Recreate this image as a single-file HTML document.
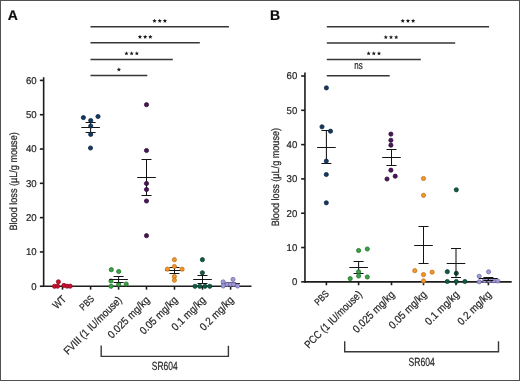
<!DOCTYPE html>
<html><head><meta charset="utf-8"><style>
html,body{margin:0;padding:0;background:#fff;}
body{width:520px;height:381px;overflow:hidden;}
svg{display:block;text-rendering:geometricPrecision;will-change:transform;}
text{font-family:"Liberation Sans",sans-serif;fill:#262626;stroke:#262626;stroke-width:0.22px;}
.ax{stroke:#1c1c1c;stroke-width:1.6;fill:none;}
.eb{stroke:#141414;stroke-width:1.05;fill:none;}
.sb{stroke:#363636;stroke-width:1.5;fill:none;}
.br{stroke:#383838;stroke-width:1.4;fill:none;}
.star{fill:#1a1a1a;}
.tk{font-size:9.9px;text-anchor:end;}
.ns{font-size:11px;text-anchor:middle;}
.xl{font-size:10.8px;text-anchor:end;}
.sr{font-size:11.9px;text-anchor:middle;}
.yt{font-size:10.6px;text-anchor:middle;}
.pl{font-size:14px;font-weight:bold;fill:#0a0a0a;}
</style></head><body>
<svg width="520" height="381" viewBox="0 0 520 381">
<rect x="0.5" y="0.5" width="519" height="380" fill="#fff" stroke="#525252" stroke-width="1"/>
<line x1="43.65" y1="77.2" x2="43.65" y2="286.95" class="ax"/>
<line x1="42.949999999999996" y1="286.25" x2="251.5" y2="286.25" class="ax"/>
<line x1="39.85" y1="286.25" x2="43.65" y2="286.25" class="ax"/>
<text x="36.7" y="289.55" class="tk" textLength="5.34" lengthAdjust="spacingAndGlyphs">0</text>
<line x1="39.85" y1="251.94" x2="43.65" y2="251.94" class="ax"/>
<text x="36.7" y="255.24" class="tk" textLength="10.68" lengthAdjust="spacingAndGlyphs">10</text>
<line x1="39.85" y1="217.63" x2="43.65" y2="217.63" class="ax"/>
<text x="36.7" y="220.93" class="tk" textLength="10.68" lengthAdjust="spacingAndGlyphs">20</text>
<line x1="39.85" y1="183.32" x2="43.65" y2="183.32" class="ax"/>
<text x="36.7" y="186.62" class="tk" textLength="10.68" lengthAdjust="spacingAndGlyphs">30</text>
<line x1="39.85" y1="149.02" x2="43.65" y2="149.02" class="ax"/>
<text x="36.7" y="152.32" class="tk" textLength="10.68" lengthAdjust="spacingAndGlyphs">40</text>
<line x1="39.85" y1="114.71" x2="43.65" y2="114.71" class="ax"/>
<text x="36.7" y="118.01" class="tk" textLength="10.68" lengthAdjust="spacingAndGlyphs">50</text>
<line x1="39.85" y1="80.40" x2="43.65" y2="80.40" class="ax"/>
<text x="36.7" y="83.70" class="tk" textLength="10.68" lengthAdjust="spacingAndGlyphs">60</text>
<line x1="62.50" y1="286.25" x2="62.50" y2="289.65" class="ax"/>
<line x1="90.60" y1="286.25" x2="90.60" y2="289.65" class="ax"/>
<line x1="118.60" y1="286.25" x2="118.60" y2="289.65" class="ax"/>
<line x1="146.50" y1="286.25" x2="146.50" y2="289.65" class="ax"/>
<line x1="174.50" y1="286.25" x2="174.50" y2="289.65" class="ax"/>
<line x1="202.50" y1="286.25" x2="202.50" y2="289.65" class="ax"/>
<line x1="230.60" y1="286.25" x2="230.60" y2="289.65" class="ax"/>
<circle cx="58.4" cy="281.8" r="2.1" fill="#c8112e" stroke="#8e0a20" stroke-width="0.75"/>
<circle cx="54.5" cy="286.3" r="2.1" fill="#c8112e" stroke="#8e0a20" stroke-width="0.75"/>
<circle cx="57.6" cy="286.2" r="2.1" fill="#c8112e" stroke="#8e0a20" stroke-width="0.75"/>
<circle cx="63.9" cy="285.4" r="2.1" fill="#c8112e" stroke="#8e0a20" stroke-width="0.75"/>
<circle cx="67.1" cy="286.2" r="2.1" fill="#c8112e" stroke="#8e0a20" stroke-width="0.75"/>
<circle cx="70.2" cy="286.2" r="2.1" fill="#c8112e" stroke="#8e0a20" stroke-width="0.75"/>
<line x1="90.6" y1="122.5" x2="90.6" y2="132.5" class="eb"/>
<line x1="81.30" y1="127.5" x2="99.90" y2="127.5" class="eb"/>
<line x1="85.60" y1="122.5" x2="95.60" y2="122.5" class="eb"/>
<line x1="85.60" y1="132.5" x2="95.60" y2="132.5" class="eb"/>
<circle cx="83.4" cy="117.6" r="2.1" fill="#153a60" stroke="#0b2340" stroke-width="0.75"/>
<circle cx="98" cy="116.5" r="2.1" fill="#153a60" stroke="#0b2340" stroke-width="0.75"/>
<circle cx="90.7" cy="120.5" r="2.1" fill="#153a60" stroke="#0b2340" stroke-width="0.75"/>
<circle cx="90.7" cy="126" r="2.1" fill="#153a60" stroke="#0b2340" stroke-width="0.75"/>
<circle cx="90.7" cy="134.4" r="2.1" fill="#153a60" stroke="#0b2340" stroke-width="0.75"/>
<circle cx="90.5" cy="148" r="2.1" fill="#153a60" stroke="#0b2340" stroke-width="0.75"/>
<circle cx="111.3" cy="269.7" r="2.1" fill="#37a443" stroke="#1c6b27" stroke-width="0.75"/>
<circle cx="118.7" cy="271.5" r="2.1" fill="#37a443" stroke="#1c6b27" stroke-width="0.75"/>
<circle cx="111" cy="281" r="2.1" fill="#37a443" stroke="#1c6b27" stroke-width="0.75"/>
<circle cx="111" cy="286.3" r="2.1" fill="#37a443" stroke="#1c6b27" stroke-width="0.75"/>
<circle cx="118.7" cy="284.4" r="2.1" fill="#37a443" stroke="#1c6b27" stroke-width="0.75"/>
<circle cx="126.2" cy="284" r="2.1" fill="#37a443" stroke="#1c6b27" stroke-width="0.75"/>
<line x1="118.6" y1="276.5" x2="118.6" y2="282.5" class="eb"/>
<line x1="109.30" y1="279.5" x2="127.90" y2="279.5" class="eb"/>
<line x1="113.60" y1="276.5" x2="123.60" y2="276.5" class="eb"/>
<line x1="113.60" y1="282.5" x2="123.60" y2="282.5" class="eb"/>
<line x1="146.5" y1="159.5" x2="146.5" y2="195.5" class="eb"/>
<line x1="137.20" y1="177.5" x2="155.80" y2="177.5" class="eb"/>
<line x1="141.50" y1="159.5" x2="151.50" y2="159.5" class="eb"/>
<line x1="141.50" y1="195.5" x2="151.50" y2="195.5" class="eb"/>
<circle cx="146.5" cy="104.7" r="2.1" fill="#4a1659" stroke="#2a0a34" stroke-width="0.75"/>
<circle cx="146.5" cy="150.5" r="2.1" fill="#4a1659" stroke="#2a0a34" stroke-width="0.75"/>
<circle cx="146.5" cy="183.5" r="2.1" fill="#4a1659" stroke="#2a0a34" stroke-width="0.75"/>
<circle cx="146.5" cy="189.5" r="2.1" fill="#4a1659" stroke="#2a0a34" stroke-width="0.75"/>
<circle cx="146.5" cy="201" r="2.1" fill="#4a1659" stroke="#2a0a34" stroke-width="0.75"/>
<circle cx="146.5" cy="235.7" r="2.1" fill="#4a1659" stroke="#2a0a34" stroke-width="0.75"/>
<line x1="174.5" y1="267.5" x2="174.5" y2="273.5" class="eb"/>
<line x1="165.20" y1="270.5" x2="183.80" y2="270.5" class="eb"/>
<line x1="169.50" y1="267.5" x2="179.50" y2="267.5" class="eb"/>
<line x1="169.50" y1="273.5" x2="179.50" y2="273.5" class="eb"/>
<circle cx="174.4" cy="259.7" r="2.1" fill="#f0962a" stroke="#c06e12" stroke-width="0.75"/>
<circle cx="174.4" cy="266.5" r="2.1" fill="#f0962a" stroke="#c06e12" stroke-width="0.75"/>
<circle cx="167.4" cy="269.2" r="2.1" fill="#f0962a" stroke="#c06e12" stroke-width="0.75"/>
<circle cx="182.1" cy="269.2" r="2.1" fill="#f0962a" stroke="#c06e12" stroke-width="0.75"/>
<circle cx="174.4" cy="276.5" r="2.1" fill="#f0962a" stroke="#c06e12" stroke-width="0.75"/>
<circle cx="174.4" cy="280.2" r="2.1" fill="#f0962a" stroke="#c06e12" stroke-width="0.75"/>
<circle cx="202.4" cy="259.7" r="2.1" fill="#125a45" stroke="#07382a" stroke-width="0.75"/>
<circle cx="202.4" cy="272.8" r="2.1" fill="#125a45" stroke="#07382a" stroke-width="0.75"/>
<circle cx="195" cy="286.3" r="2.1" fill="#125a45" stroke="#07382a" stroke-width="0.75"/>
<circle cx="199.8" cy="286.3" r="2.1" fill="#125a45" stroke="#07382a" stroke-width="0.75"/>
<circle cx="205" cy="286.3" r="2.1" fill="#125a45" stroke="#07382a" stroke-width="0.75"/>
<circle cx="209.8" cy="286.3" r="2.1" fill="#125a45" stroke="#07382a" stroke-width="0.75"/>
<line x1="202.5" y1="275.5" x2="202.5" y2="283.5" class="eb"/>
<line x1="193.20" y1="279.5" x2="211.80" y2="279.5" class="eb"/>
<line x1="197.50" y1="275.5" x2="207.50" y2="275.5" class="eb"/>
<line x1="197.50" y1="283.5" x2="207.50" y2="283.5" class="eb"/>
<line x1="230.6" y1="282.5" x2="230.6" y2="284.5" class="eb"/>
<line x1="221.30" y1="283.5" x2="239.90" y2="283.5" class="eb"/>
<line x1="225.60" y1="282.5" x2="235.60" y2="282.5" class="eb"/>
<line x1="225.60" y1="284.5" x2="235.60" y2="284.5" class="eb"/>
<circle cx="233" cy="279.4" r="2.1" fill="#a09ad6" stroke="#7069a8" stroke-width="0.75"/>
<circle cx="223.2" cy="281.9" r="2.1" fill="#a09ad6" stroke="#7069a8" stroke-width="0.75"/>
<circle cx="223.2" cy="286.0" r="2.1" fill="#a09ad6" stroke="#7069a8" stroke-width="0.75"/>
<circle cx="227.2" cy="284.3" r="2.1" fill="#a09ad6" stroke="#7069a8" stroke-width="0.75"/>
<circle cx="230.6" cy="284.3" r="2.1" fill="#a09ad6" stroke="#7069a8" stroke-width="0.75"/>
<circle cx="233.6" cy="284.3" r="2.1" fill="#a09ad6" stroke="#7069a8" stroke-width="0.75"/>
<circle cx="237.6" cy="286" r="2.1" fill="#a09ad6" stroke="#7069a8" stroke-width="0.75"/>
<line x1="90.5" y1="26.8" x2="228.9" y2="26.8" class="sb"/>
<polygon points="154.50,18.65 155.09,20.09 156.64,20.20 155.45,21.21 155.82,22.72 154.50,21.90 153.18,22.72 153.55,21.21 152.36,20.20 153.91,20.09" class="star"/>
<polygon points="159.70,18.65 160.29,20.09 161.84,20.20 160.65,21.21 161.02,22.72 159.70,21.90 158.38,22.72 158.75,21.21 157.56,20.20 159.11,20.09" class="star"/>
<polygon points="164.90,18.65 165.49,20.09 167.04,20.20 165.85,21.21 166.22,22.72 164.90,21.90 163.58,22.72 163.95,21.21 162.76,20.20 164.31,20.09" class="star"/>
<line x1="90.5" y1="42.8" x2="199.8" y2="42.8" class="sb"/>
<polygon points="139.95,34.65 140.54,36.09 142.09,36.20 140.90,37.21 141.27,38.72 139.95,37.90 138.63,38.72 139.00,37.21 137.81,36.20 139.36,36.09" class="star"/>
<polygon points="145.15,34.65 145.74,36.09 147.29,36.20 146.10,37.21 146.47,38.72 145.15,37.90 143.83,38.72 144.20,37.21 143.01,36.20 144.56,36.09" class="star"/>
<polygon points="150.35,34.65 150.94,36.09 152.49,36.20 151.30,37.21 151.67,38.72 150.35,37.90 149.03,38.72 149.40,37.21 148.21,36.20 149.76,36.09" class="star"/>
<line x1="90.5" y1="59.4" x2="172.8" y2="59.4" class="sb"/>
<polygon points="126.45,51.25 127.04,52.69 128.59,52.80 127.40,53.81 127.77,55.32 126.45,54.50 125.13,55.32 125.50,53.81 124.31,52.80 125.86,52.69" class="star"/>
<polygon points="131.65,51.25 132.24,52.69 133.79,52.80 132.60,53.81 132.97,55.32 131.65,54.50 130.33,55.32 130.70,53.81 129.51,52.80 131.06,52.69" class="star"/>
<polygon points="136.85,51.25 137.44,52.69 138.99,52.80 137.80,53.81 138.17,55.32 136.85,54.50 135.53,55.32 135.90,53.81 134.71,52.80 136.26,52.69" class="star"/>
<line x1="90.5" y1="75.5" x2="147.3" y2="75.5" class="sb"/>
<polygon points="118.90,67.35 119.49,68.79 121.04,68.90 119.85,69.91 120.22,71.42 118.90,70.60 117.58,71.42 117.95,69.91 116.76,68.90 118.31,68.79" class="star"/>
<text transform="translate(66.70,299.85) rotate(-45)" class="xl" textLength="13.75" lengthAdjust="spacingAndGlyphs">WT</text>
<text transform="translate(94.80,299.45) rotate(-45)" class="xl" style="font-size:9.6px" textLength="16.20" lengthAdjust="spacingAndGlyphs">PBS</text>
<text transform="translate(122.40,300.75) rotate(-45)" class="xl" textLength="77.07" lengthAdjust="spacingAndGlyphs">FVIII (1 IU/mouse)</text>
<text transform="translate(150.30,300.75) rotate(-45)" class="xl" textLength="54.09" lengthAdjust="spacingAndGlyphs">0.025 mg/kg</text>
<text transform="translate(178.30,300.75) rotate(-45)" class="xl" textLength="48.62" lengthAdjust="spacingAndGlyphs">0.05 mg/kg</text>
<text transform="translate(206.30,300.75) rotate(-45)" class="xl" textLength="43.16" lengthAdjust="spacingAndGlyphs">0.1 mg/kg</text>
<text transform="translate(234.40,300.75) rotate(-45)" class="xl" textLength="43.16" lengthAdjust="spacingAndGlyphs">0.2 mg/kg</text>
<polyline points="101.2,345.5 101.2,356.4 228.4,356.4 228.4,345.8" class="br"/>
<text x="164.7" y="370.0" class="sr" textLength="25.8" lengthAdjust="spacingAndGlyphs">SR604</text>
<text transform="translate(17.4,181.4) rotate(-90)" class="yt" textLength="98.3" lengthAdjust="spacingAndGlyphs">Blood loss (µL/g mouse)</text>
<text x="7.8" y="19.9" class="pl">A</text>
<line x1="304.95" y1="72.6" x2="304.95" y2="282.55" class="ax"/>
<line x1="304.25" y1="281.85" x2="511.7" y2="281.85" class="ax"/>
<line x1="301.15" y1="281.85" x2="304.95" y2="281.85" class="ax"/>
<text x="297.3" y="285.15" class="tk" textLength="5.34" lengthAdjust="spacingAndGlyphs">0</text>
<line x1="301.15" y1="247.54" x2="304.95" y2="247.54" class="ax"/>
<text x="297.3" y="250.84" class="tk" textLength="10.68" lengthAdjust="spacingAndGlyphs">10</text>
<line x1="301.15" y1="213.23" x2="304.95" y2="213.23" class="ax"/>
<text x="297.3" y="216.53" class="tk" textLength="10.68" lengthAdjust="spacingAndGlyphs">20</text>
<line x1="301.15" y1="178.93" x2="304.95" y2="178.93" class="ax"/>
<text x="297.3" y="182.23" class="tk" textLength="10.68" lengthAdjust="spacingAndGlyphs">30</text>
<line x1="301.15" y1="144.62" x2="304.95" y2="144.62" class="ax"/>
<text x="297.3" y="147.92" class="tk" textLength="10.68" lengthAdjust="spacingAndGlyphs">40</text>
<line x1="301.15" y1="110.31" x2="304.95" y2="110.31" class="ax"/>
<text x="297.3" y="113.61" class="tk" textLength="10.68" lengthAdjust="spacingAndGlyphs">50</text>
<line x1="301.15" y1="76.00" x2="304.95" y2="76.00" class="ax"/>
<text x="297.3" y="79.30" class="tk" textLength="10.68" lengthAdjust="spacingAndGlyphs">60</text>
<line x1="326.40" y1="281.85" x2="326.40" y2="285.25" class="ax"/>
<line x1="358.60" y1="281.85" x2="358.60" y2="285.25" class="ax"/>
<line x1="391.50" y1="281.85" x2="391.50" y2="285.25" class="ax"/>
<line x1="423.50" y1="281.85" x2="423.50" y2="285.25" class="ax"/>
<line x1="456.00" y1="281.85" x2="456.00" y2="285.25" class="ax"/>
<line x1="488.40" y1="281.85" x2="488.40" y2="285.25" class="ax"/>
<line x1="326.4" y1="130.5" x2="326.4" y2="163.5" class="eb"/>
<line x1="317.10" y1="147.5" x2="335.70" y2="147.5" class="eb"/>
<line x1="321.40" y1="130.5" x2="331.40" y2="130.5" class="eb"/>
<line x1="321.40" y1="163.5" x2="331.40" y2="163.5" class="eb"/>
<circle cx="326.4" cy="87.9" r="2.1" fill="#153a60" stroke="#0b2340" stroke-width="0.75"/>
<circle cx="322" cy="126.8" r="2.1" fill="#153a60" stroke="#0b2340" stroke-width="0.75"/>
<circle cx="330.5" cy="131.2" r="2.1" fill="#153a60" stroke="#0b2340" stroke-width="0.75"/>
<circle cx="326.3" cy="161.1" r="2.1" fill="#153a60" stroke="#0b2340" stroke-width="0.75"/>
<circle cx="326.3" cy="174.5" r="2.1" fill="#153a60" stroke="#0b2340" stroke-width="0.75"/>
<circle cx="326.3" cy="202.8" r="2.1" fill="#153a60" stroke="#0b2340" stroke-width="0.75"/>
<line x1="358.6" y1="261.5" x2="358.6" y2="273.5" class="eb"/>
<line x1="349.30" y1="267.5" x2="367.90" y2="267.5" class="eb"/>
<line x1="353.60" y1="261.5" x2="363.60" y2="261.5" class="eb"/>
<line x1="353.60" y1="273.5" x2="363.60" y2="273.5" class="eb"/>
<circle cx="358.6" cy="250.5" r="2.1" fill="#37a443" stroke="#1c6b27" stroke-width="0.75"/>
<circle cx="367.3" cy="249" r="2.1" fill="#37a443" stroke="#1c6b27" stroke-width="0.75"/>
<circle cx="358.6" cy="271.8" r="2.1" fill="#37a443" stroke="#1c6b27" stroke-width="0.75"/>
<circle cx="358.6" cy="276" r="2.1" fill="#37a443" stroke="#1c6b27" stroke-width="0.75"/>
<circle cx="367.3" cy="277" r="2.1" fill="#37a443" stroke="#1c6b27" stroke-width="0.75"/>
<circle cx="350.2" cy="278.6" r="2.1" fill="#37a443" stroke="#1c6b27" stroke-width="0.75"/>
<line x1="391.5" y1="149.5" x2="391.5" y2="165.5" class="eb"/>
<line x1="382.20" y1="157.5" x2="400.80" y2="157.5" class="eb"/>
<line x1="386.50" y1="149.5" x2="396.50" y2="149.5" class="eb"/>
<line x1="386.50" y1="165.5" x2="396.50" y2="165.5" class="eb"/>
<circle cx="390.9" cy="134.1" r="2.1" fill="#4a1659" stroke="#2a0a34" stroke-width="0.75"/>
<circle cx="390.9" cy="140.3" r="2.1" fill="#4a1659" stroke="#2a0a34" stroke-width="0.75"/>
<circle cx="390.9" cy="145.2" r="2.1" fill="#4a1659" stroke="#2a0a34" stroke-width="0.75"/>
<circle cx="390.9" cy="170.2" r="2.1" fill="#4a1659" stroke="#2a0a34" stroke-width="0.75"/>
<circle cx="395.2" cy="176.2" r="2.1" fill="#4a1659" stroke="#2a0a34" stroke-width="0.75"/>
<circle cx="387" cy="179" r="2.1" fill="#4a1659" stroke="#2a0a34" stroke-width="0.75"/>
<line x1="423.5" y1="226.5" x2="423.5" y2="263.5" class="eb"/>
<line x1="414.20" y1="245.5" x2="432.80" y2="245.5" class="eb"/>
<line x1="418.50" y1="226.5" x2="428.50" y2="226.5" class="eb"/>
<line x1="418.50" y1="263.5" x2="428.50" y2="263.5" class="eb"/>
<circle cx="423.5" cy="178.5" r="2.1" fill="#f0962a" stroke="#c06e12" stroke-width="0.75"/>
<circle cx="423.5" cy="195.3" r="2.1" fill="#f0962a" stroke="#c06e12" stroke-width="0.75"/>
<circle cx="414.8" cy="270.7" r="2.1" fill="#f0962a" stroke="#c06e12" stroke-width="0.75"/>
<circle cx="432.1" cy="272.2" r="2.1" fill="#f0962a" stroke="#c06e12" stroke-width="0.75"/>
<circle cx="423.5" cy="274.6" r="2.1" fill="#f0962a" stroke="#c06e12" stroke-width="0.75"/>
<circle cx="423.5" cy="280.9" r="2.1" fill="#f0962a" stroke="#c06e12" stroke-width="0.75"/>
<circle cx="456.3" cy="189.8" r="2.1" fill="#125a45" stroke="#07382a" stroke-width="0.75"/>
<circle cx="447.3" cy="271.7" r="2.1" fill="#125a45" stroke="#07382a" stroke-width="0.75"/>
<circle cx="456.3" cy="273.3" r="2.1" fill="#125a45" stroke="#07382a" stroke-width="0.75"/>
<circle cx="447.3" cy="281.5" r="2.1" fill="#125a45" stroke="#07382a" stroke-width="0.75"/>
<circle cx="456.3" cy="281.5" r="2.1" fill="#125a45" stroke="#07382a" stroke-width="0.75"/>
<circle cx="464.9" cy="281.5" r="2.1" fill="#125a45" stroke="#07382a" stroke-width="0.75"/>
<line x1="456.0" y1="248.5" x2="456.0" y2="277.5" class="eb"/>
<line x1="446.70" y1="263.5" x2="465.30" y2="263.5" class="eb"/>
<line x1="451.00" y1="248.5" x2="461.00" y2="248.5" class="eb"/>
<line x1="451.00" y1="277.5" x2="461.00" y2="277.5" class="eb"/>
<circle cx="488.6" cy="271.8" r="2.1" fill="#a09ad6" stroke="#7069a8" stroke-width="0.75"/>
<circle cx="479.2" cy="276.3" r="2.1" fill="#a09ad6" stroke="#7069a8" stroke-width="0.75"/>
<circle cx="479.2" cy="281.8" r="2.1" fill="#a09ad6" stroke="#7069a8" stroke-width="0.75"/>
<circle cx="484.4" cy="280.4" r="2.1" fill="#a09ad6" stroke="#7069a8" stroke-width="0.75"/>
<circle cx="489.3" cy="280.4" r="2.1" fill="#a09ad6" stroke="#7069a8" stroke-width="0.75"/>
<circle cx="493.8" cy="280.8" r="2.1" fill="#a09ad6" stroke="#7069a8" stroke-width="0.75"/>
<circle cx="497.8" cy="281.0" r="2.1" fill="#a09ad6" stroke="#7069a8" stroke-width="0.75"/>
<line x1="488.4" y1="277.5" x2="488.4" y2="280.5" class="eb"/>
<line x1="479.10" y1="278.5" x2="497.70" y2="278.5" class="eb"/>
<line x1="483.40" y1="277.5" x2="493.40" y2="277.5" class="eb"/>
<line x1="483.40" y1="280.5" x2="493.40" y2="280.5" class="eb"/>
<line x1="326.8" y1="26.8" x2="489.1" y2="26.8" class="sb"/>
<polygon points="402.75,18.65 403.34,20.09 404.89,20.20 403.70,21.21 404.07,22.72 402.75,21.90 401.43,22.72 401.80,21.21 400.61,20.20 402.16,20.09" class="star"/>
<polygon points="407.95,18.65 408.54,20.09 410.09,20.20 408.90,21.21 409.27,22.72 407.95,21.90 406.63,22.72 407.00,21.21 405.81,20.20 407.36,20.09" class="star"/>
<polygon points="413.15,18.65 413.74,20.09 415.29,20.20 414.10,21.21 414.47,22.72 413.15,21.90 411.83,22.72 412.20,21.21 411.01,20.20 412.56,20.09" class="star"/>
<line x1="326.8" y1="43.1" x2="455.2" y2="43.1" class="sb"/>
<polygon points="385.80,34.95 386.39,36.39 387.94,36.50 386.75,37.51 387.12,39.02 385.80,38.20 384.48,39.02 384.85,37.51 383.66,36.50 385.21,36.39" class="star"/>
<polygon points="391.00,34.95 391.59,36.39 393.14,36.50 391.95,37.51 392.32,39.02 391.00,38.20 389.68,39.02 390.05,37.51 388.86,36.50 390.41,36.39" class="star"/>
<polygon points="396.20,34.95 396.79,36.39 398.34,36.50 397.15,37.51 397.52,39.02 396.20,38.20 394.88,39.02 395.25,37.51 394.06,36.50 395.61,36.39" class="star"/>
<line x1="326.8" y1="59.4" x2="420.8" y2="59.4" class="sb"/>
<polygon points="368.60,51.25 369.19,52.69 370.74,52.80 369.55,53.81 369.92,55.32 368.60,54.50 367.28,55.32 367.65,53.81 366.46,52.80 368.01,52.69" class="star"/>
<polygon points="373.80,51.25 374.39,52.69 375.94,52.80 374.75,53.81 375.12,55.32 373.80,54.50 372.48,55.32 372.85,53.81 371.66,52.80 373.21,52.69" class="star"/>
<polygon points="379.00,51.25 379.59,52.69 381.14,52.80 379.95,53.81 380.32,55.32 379.00,54.50 377.68,55.32 378.05,53.81 376.86,52.80 378.41,52.69" class="star"/>
<line x1="326.8" y1="75.7" x2="389.7" y2="75.7" class="sb"/>
<text x="358.5" y="68.9" class="ns" textLength="8.4" lengthAdjust="spacingAndGlyphs">ns</text>
<text transform="translate(329.60,294.45) rotate(-45)" class="xl" style="font-size:9.6px" textLength="16.20" lengthAdjust="spacingAndGlyphs">PBS</text>
<text transform="translate(362.60,295.05) rotate(-45)" class="xl" textLength="76.27" lengthAdjust="spacingAndGlyphs">PCC (1 IU/mouse)</text>
<text transform="translate(395.30,295.15) rotate(-45)" class="xl" textLength="54.09" lengthAdjust="spacingAndGlyphs">0.025 mg/kg</text>
<text transform="translate(427.30,295.15) rotate(-45)" class="xl" textLength="48.62" lengthAdjust="spacingAndGlyphs">0.05 mg/kg</text>
<text transform="translate(459.80,295.15) rotate(-45)" class="xl" textLength="43.16" lengthAdjust="spacingAndGlyphs">0.1 mg/kg</text>
<text transform="translate(492.20,295.15) rotate(-45)" class="xl" textLength="43.16" lengthAdjust="spacingAndGlyphs">0.2 mg/kg</text>
<polyline points="344.7,341.3 344.7,351.8 498.5,351.8 498.5,341.3" class="br"/>
<text x="421.6" y="366.0" class="sr" textLength="26.2" lengthAdjust="spacingAndGlyphs">SR604</text>
<text transform="translate(279.3,177.1) rotate(-90)" class="yt" textLength="98.3" lengthAdjust="spacingAndGlyphs">Blood loss (µL/g mouse)</text>
<text x="269.9" y="19.9" class="pl">B</text>
</svg>
</body></html>
